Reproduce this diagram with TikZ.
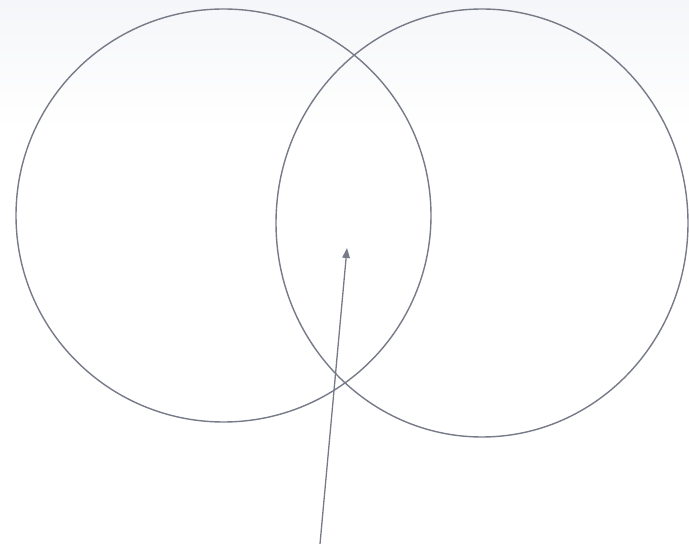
\documentclass[tikz,border=0pt]{standalone}
\usepackage{tikz}
\usetikzlibrary{
    arrows.meta,
    shapes.geometric
}
\definecolor{ringgray}{HTML}{777B88}
\definecolor{skytint}{HTML}{F5F6F9}

\begin{document}
\begin{tikzpicture}[x=1pt, y=1pt, >={Triangle[length=10pt,width=7.5pt]}, line width=1.4pt, line cap=round, line join=round]
  \def\W{689}    % picture width
  \def\H{544}    % picture height
  \def\fade{130} % depth of the top tint

  \tikzset{ring/.style={draw=ringgray, ellipse, inner sep=0pt, outer sep=0pt}}

  % Frame and background tint
  \useasboundingbox (0,0) rectangle (\W,\H);
  \fill[white] (0,0) rectangle (\W,\H);
  \shade[top color=skytint, bottom color=white, draw=none]
    (0,\H-\fade) rectangle (\W,\H);

  % Left ring
  \node[ring, minimum width=415pt, minimum height=413pt] (leftring) at (223.5,328.5) {};

  % Right ring
  \node[ring, minimum width=412pt, minimum height=428pt] (rightring) at (482,321) {};

  % Pointer into the overlap
  \coordinate (tail) at (320,0);
  \coordinate (overlap) at (347,296);
  \draw[->, ringgray, line width=1.3pt, line cap=butt] (tail) -- (overlap);

\end{tikzpicture}
\end{document}
